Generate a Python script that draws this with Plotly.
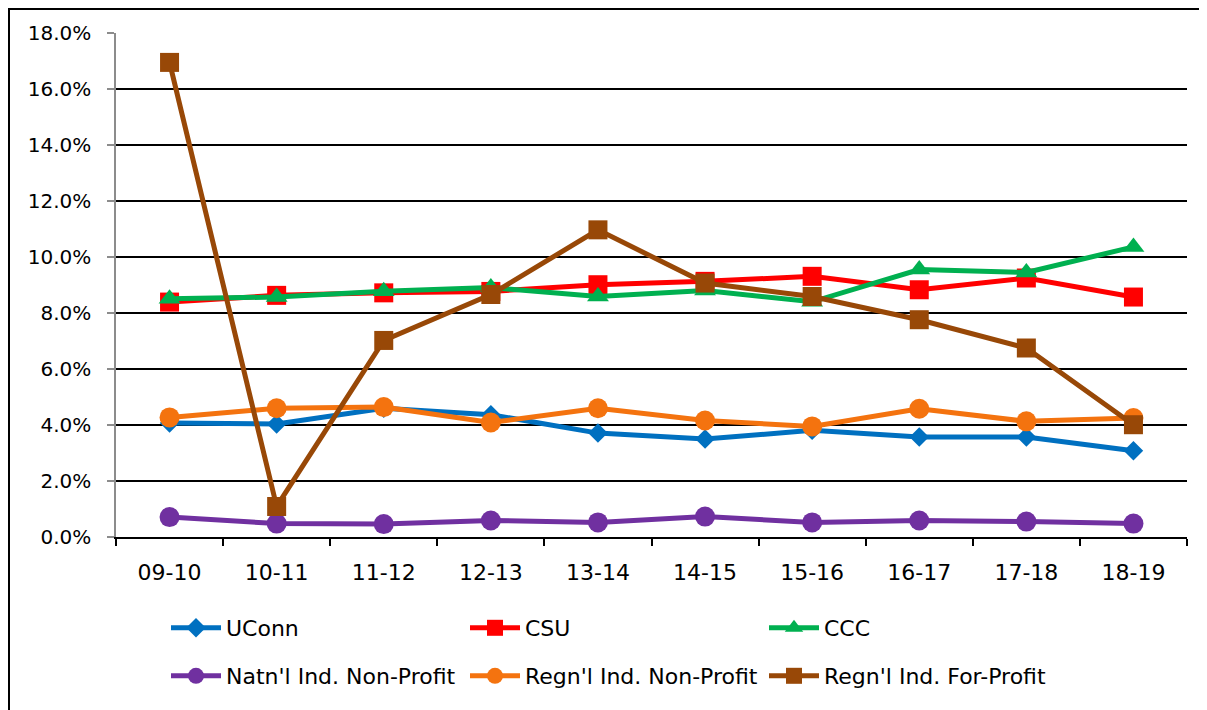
import plotly.graph_objects as go

categories = ["09-10", "10-11", "11-12", "12-13", "13-14", "14-15", "15-16", "16-17", "17-18", "18-19"]

uconn = [4.07, 4.04, 4.60, 4.37, 3.71, 3.50, 3.81, 3.57, 3.57, 3.08]
csu = [8.39, 8.63, 8.72, 8.77, 9.01, 9.13, 9.31, 8.83, 9.25, 8.57]
ccc = [8.51, 8.57, 8.78, 8.91, 8.59, 8.80, 8.40, 9.55, 9.45, 10.36]
natl_np = [0.71, 0.48, 0.46, 0.59, 0.52, 0.73, 0.52, 0.59, 0.55, 0.48]
regl_np = [4.27, 4.60, 4.64, 4.09, 4.60, 4.16, 3.95, 4.58, 4.13, 4.25]
regl_fp = [16.95, 1.09, 7.02, 8.66, 10.97, 9.07, 8.59, 7.76, 6.75, 4.01]

y_ticks = [0, 2, 4, 6, 8, 10, 12, 14, 16, 18]
y_tick_labels = ["0.0%", "2.0%", "4.0%", "6.0%", "8.0%", "10.0%", "12.0%", "14.0%", "16.0%", "18.0%"]

series = [
    ("UConn", uconn, "#0070C0", "diamond", 15, "legend"),
    ("CSU", csu, "#FF0000", "square", 19, "legend"),
    ("CCC", ccc, "#00B050", "triangle-up", 19, "legend"),
    ("Natn'l Ind. Non-Profit", natl_np, "#7030A0", "circle", 20, "legend2"),
    ("Regn'l Ind. Non-Profit", regl_np, "#F4730F", "circle", 20, "legend2"),
    ("Regn'l Ind. For-Profit", regl_fp, "#984807", "square", 19, "legend2"),
]

FONT = "'DejaVu Sans', 'Noto Sans', sans-serif"

fig = go.Figure()
for name, vals, color, sym, size, lg in series:
    fig.add_trace(go.Scatter(
        x=categories, y=vals, name=name, mode="lines+markers",
        line=dict(color=color, width=5),
        marker=dict(symbol=sym, size=size, color=color, line=dict(width=0)),
        legend=lg,
    ))

# page offset (browser body margin) compensated
OFF = 8
W, H = 1199, 702
PL, PR, PT, PB = 116, 1187, 33, 537  # screen px of plot area
L = PL - OFF
T = PT - OFF
R = OFF + W - PR
B = OFF + H - PB
pw = PR - PL
ph = PB - PT

def px_x(p):
    return (p - PL) / pw

def px_y(p):
    return (PB - p) / ph

legend_common = dict(
    orientation="h", xanchor="left", yanchor="middle",
    entrywidth=234, entrywidthmode="pixels", itemwidth=50,
    font=dict(family=FONT, size=22, color="black"), bgcolor="rgba(0,0,0,0)",
)

fig.update_layout(
    width=W, height=H,
    margin=dict(l=L, r=R, t=T, b=B, pad=0),
    paper_bgcolor="white", plot_bgcolor="white",
    font=dict(family=FONT, size=20, color="black"),
    showlegend=True,
    legend=dict(x=px_x(166), y=px_y(628), **legend_common),
    legend2=dict(x=px_x(166), y=px_y(676), **legend_common),
    xaxis=dict(
        type="category", range=[-0.5, 9.5],
        showline=True, linecolor="black", linewidth=1.5,
        ticks="outside", tickson="boundaries", ticklen=7, tickcolor="black", tickwidth=1.5,
        showgrid=False, ticklabelstandoff=15,
        tickfont=dict(family=FONT, size=22, color="black"),
    ),
    yaxis=dict(
        range=[0, 18], tickmode="array", tickvals=y_ticks, ticktext=y_tick_labels,
        showline=True, linecolor="#8C8C8C", linewidth=1.5,
        ticks="outside", ticklen=7, tickcolor="#8C8C8C", tickwidth=1.5,
        showgrid=True, gridcolor="black", gridwidth=1.5, zeroline=False,
        ticklabelstandoff=12,
        tickfont=dict(family=FONT, size=20, color="black"),
    ),
    shapes=[dict(
        type="rect", xref="paper", yref="paper",
        x0=px_x(9), x1=px_x(1400), y0=px_y(9), y1=px_y(800),
        line=dict(color="black", width=2), fillcolor="rgba(0,0,0,0)", layer="above",
    )],
)

fig.write_html("out.html")
